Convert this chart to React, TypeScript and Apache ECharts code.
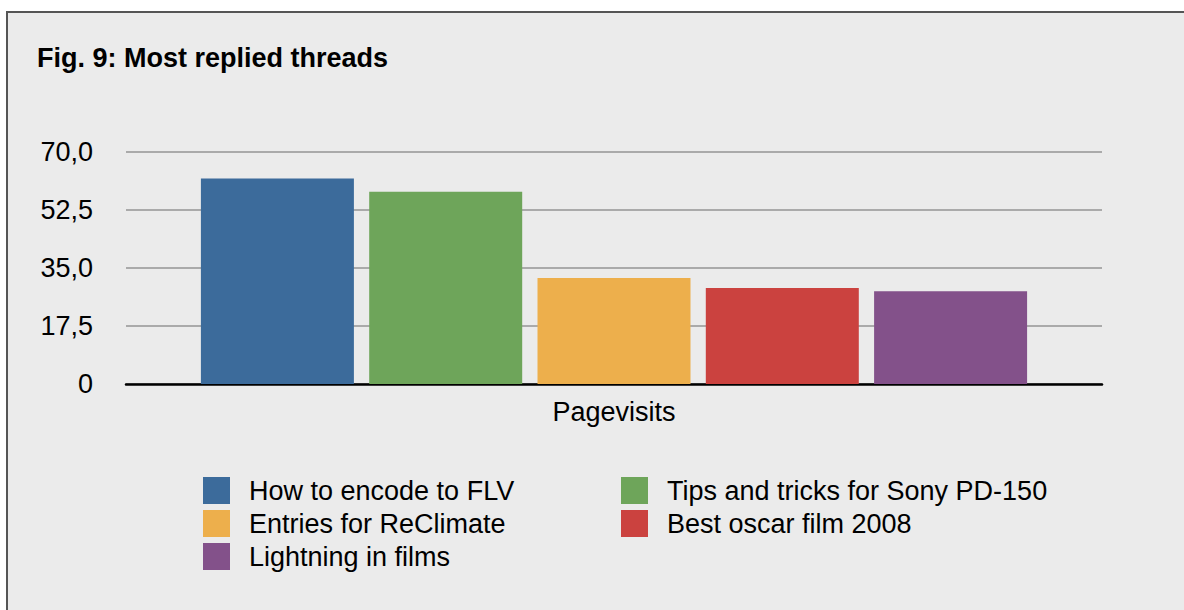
import React, { useEffect, useRef } from "react";
import * as echarts from "echarts";

// Thread reply counts for the "Pagevisits" category
const categories = ["Pagevisits"];
const threadNames = [
  "How to encode to FLV",
  "Tips and tricks for Sony PD-150",
  "Entries for ReClimate",
  "Best oscar film 2008",
  "Lightning in films",
];
const threadValues = [62, 58, 32, 29, 28];
const threadColors = ["#3c6b9b", "#6ea55a", "#edaf4c", "#cb423f", "#83518a"];
const yTickLabels = ["0", "17,5", "35,0", "52,5", "70,0"];

const FONT = "'Liberation Sans', Arial, Helvetica, sans-serif";
const FONT_SIZE = 27;

export default function App() {
  const ref = useRef<HTMLDivElement>(null);

  useEffect(() => {
    if (!ref.current) return;
    const chart = echarts.init(ref.current, undefined, { renderer: "svg" });

    const series = threadNames.map((name, i) => ({
      name,
      type: "bar" as const,
      data: [threadValues[i]],
      barWidth: 153,
      barGap: "10%",
      itemStyle: { color: threadColors[i] },
    }));

    const legendText = {
      fontFamily: FONT,
      fontSize: FONT_SIZE,
      color: "#000",
      lineHeight: 27,
      padding: [0, 0, 0, 14],
    };

    chart.setOption({
      animation: false,
      backgroundColor: "#ffffff",
      textStyle: { fontFamily: FONT },
      graphic: {
        elements: [
          {
            type: "rect",
            z: -100,
            silent: true,
            shape: { x: 7, y: 12, width: 1220, height: 650 },
            style: { fill: "#ebebeb", stroke: "#555555", lineWidth: 2 },
          },
        ],
      },
      title: {
        text: "Fig. 9: Most replied threads",
        left: 37,
        top: 44,
        padding: 0,
        textStyle: {
          fontFamily: FONT,
          fontSize: FONT_SIZE,
          fontWeight: "bold",
          color: "#000",
        },
      },
      grid: { left: 126, right: 82, top: 152, bottom: 226 },
      xAxis: {
        type: "category",
        data: categories,
        axisTick: { show: false },
        axisLine: { lineStyle: { color: "#000", width: 2.5 } },
        axisLabel: { fontFamily: FONT, fontSize: FONT_SIZE, color: "#000", margin: 14 },
        splitLine: { show: false },
      },
      yAxis: {
        type: "value",
        min: 0,
        max: 70,
        interval: 17.5,
        axisLine: { show: false },
        axisTick: { show: false },
        axisLabel: {
          fontFamily: FONT,
          fontSize: FONT_SIZE,
          color: "#000",
          margin: 33,
          formatter: (v: number) => yTickLabels[Math.round(v / 17.5)] ?? String(v),
        },
        splitLine: { lineStyle: { color: "#aaaaaa", width: 2 } },
      },
      legend: [
        {
          data: [threadNames[0], threadNames[2], threadNames[4]],
          orient: "vertical",
          left: 203,
          top: 477,
          padding: 0,
          itemWidth: 27,
          itemHeight: 27,
          itemGap: 6,
          icon: "rect",
          selectedMode: false,
          textStyle: legendText,
        },
        {
          data: [threadNames[1], threadNames[3]],
          orient: "vertical",
          left: 621,
          top: 477,
          padding: 0,
          itemWidth: 27,
          itemHeight: 27,
          itemGap: 6,
          icon: "rect",
          selectedMode: false,
          textStyle: legendText,
        },
      ],
      series,
    });

    return () => chart.dispose();
  }, []);

  return (
    <div
      ref={ref}
      style={{ position: "fixed", left: 0, top: 0, width: 1184, height: 610 }}
    />
  );
}
